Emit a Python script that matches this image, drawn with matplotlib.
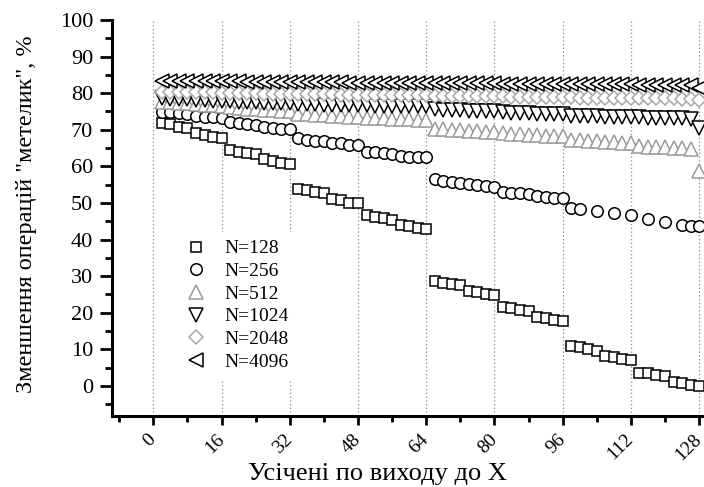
import matplotlib
matplotlib.use('Agg')
import matplotlib.pyplot as plt
from matplotlib.ticker import MultipleLocator

plt.rcParams['font.family'] = ['Liberation Serif', 'DejaVu Serif']

nan = float('nan')

# X values: output truncated to X
x_out = list(range(2, 129, 2))

n128 = [71.8, 71.5, 70.7, 70.4, 69.0, 68.7, 67.9, 67.8,
        64.5, 64.0, 63.6, 63.4, 61.9, 61.6, 60.8, 60.7,
        53.7, 53.6, 53.1, 52.6, 51.1, 50.8, 50.1, 49.9,
        46.7, 46.3, 45.8, 45.4, 44.0, 43.7, 43.1, 42.9,
        28.8, 28.2, 27.9, 27.6, 26.0, 25.8, 25.1, 24.9,
        21.5, 21.2, 20.8, 20.6, 18.8, 18.5, 18.0, 17.8,
        10.9, 10.6, 10.0, 9.6, 8.2, 7.8, 7.4, 7.1,
        3.6, 3.5, 3.0, 2.7, 1.2, 0.9, 0.3, 0.0]

n256 = [74.9, 74.8, 74.5, 74.2, 73.9, 73.6, 73.4, 73.1,
        72.2, 71.9, 71.6, 71.3, 70.7, 70.4, 70.2, 70.1,
        67.7, 67.2, 67.0, 66.9, 66.5, 66.3, 65.8, 65.8,
        64.0, 63.8, 63.6, 63.4, 62.8, 62.7, 62.5, 62.5,
        56.5, 56.1, 55.8, 55.5, 55.2, 54.9, 54.6, 54.5,
        53.1, 52.8, 52.7, 52.5, 51.9, 51.7, 51.5, 51.5,
        48.6, 48.3, nan, 47.9, nan, 47.2, nan, 46.7,
        nan, 45.5, nan, 44.9, nan, 44.0, 43.7, 43.7]

n512 = [77.6, 77.5, 77.3, 77.2, 77.0, 76.9, 76.7, 76.6,
        76.2, 76.0, 75.8, 75.7, 75.4, 75.3, 75.1, 75.0,
        74.4, 74.3, 74.1, 74.0, 73.8, 73.7, 73.5, 73.4,
        73.3, 73.2, 73.1, 73.0, 72.9, 72.9, 72.8, 72.8,
        70.2, 70.1, 70.0, 69.9, 69.7, 69.6, 69.5, 69.4,
        69.0, 68.9, 68.8, 68.7, 68.5, 68.4, 68.3, 68.2,
        67.2, 67.1, 67.0, 66.9, 66.7, 66.6, 66.5, 66.4,
        65.5, 65.4, 65.3, 65.2, 65.0, 64.9, 64.8, 58.7]

n1024 = [78.6, 78.5, 78.4, 78.3, 78.2, 78.1, 78.0, 78.0,
         77.8, 77.7, 77.6, 77.5, 77.4, 77.3, 77.3, 77.2,
         77.1, 77.0, 77.0, 76.9, 76.8, 76.8, 76.7, 76.7,
         76.7, 76.6, 76.6, 76.5, 76.5, 76.5, 76.4, 76.4,
         75.6, 75.5, 75.4, 75.3, 75.2, 75.1, 75.1, 75.0,
         74.8, 74.7, 74.6, 74.5, 74.4, 74.3, 74.3, 74.2,
         73.9, 73.8, 73.8, 73.7, 73.6, 73.6, 73.5, 73.5,
         73.4, 73.3, 73.3, 73.2, 73.2, 73.1, 73.0, 70.6]

n2048 = [80.4, 80.4, 80.3, 80.3, 80.2, 80.2, 80.2, 80.1,
         80.1, 80.0, 80.0, 80.0, 79.9, 79.9, 79.9, 79.8,
         79.8, 79.8, 79.7, 79.7, 79.7, 79.6, 79.6, 79.6,
         79.6, 79.5, 79.5, 79.5, 79.5, 79.4, 79.4, 79.4,
         79.3, 79.3, 79.3, 79.2, 79.2, 79.2, 79.1, 79.1,
         79.1, 79.0, 79.0, 79.0, 79.0, 78.9, 78.9, 78.9,
         78.9, 78.8, 78.8, 78.8, 78.8, 78.7, 78.7, 78.7,
         78.7, 78.6, 78.6, 78.6, 78.6, 78.5, 78.5, 78.1]

n4096 = [83.3, 83.3, 83.3, 83.3, 83.2, 83.2, 83.2, 83.2,
         83.2, 83.2, 83.1, 83.1, 83.1, 83.1, 83.1, 83.1,
         83.0, 83.0, 83.0, 83.0, 83.0, 83.0, 82.9, 82.9,
         82.9, 82.9, 82.9, 82.9, 82.9, 82.8, 82.8, 82.8,
         82.8, 82.8, 82.7, 82.7, 82.7, 82.7, 82.7, 82.7,
         82.6, 82.6, 82.6, 82.6, 82.6, 82.5, 82.5, 82.5,
         82.5, 82.5, 82.4, 82.4, 82.4, 82.4, 82.4, 82.4,
         82.3, 82.3, 82.3, 82.3, 82.3, 82.3, 82.3, 81.5]

labels = ['N=128', 'N=256', 'N=512', 'N=1024', 'N=2048', 'N=4096']
series = [n128, n256, n512, n1024, n2048, n4096]
x_ticks = [0, 16, 32, 48, 64, 80, 96, 112, 128]
y_ticks = [0, 10, 20, 30, 40, 50, 60, 70, 80, 90, 100]

markers = ['s', 'o', '^', 'v', 'D', '<']
colors = ['black', 'black', '#9a9a9a', 'black', '#a8a8a8', 'black']
msizes = [7.6, 8.3, 10, 10, 7.0, 10]

fig = plt.figure(figsize=(7.04, 4.87), dpi=100)
ax = fig.add_axes([112 / 704, 1 - 416 / 487, 1 - 112 / 704, 396 / 487])

for ys, lab, m, c, ms in zip(series, labels, markers, colors, msizes):
    ax.plot(x_out, ys, linestyle='none', marker=m, markersize=ms,
            markerfacecolor='white', markeredgecolor=c, markeredgewidth=1.1,
            label=lab, clip_on=False, zorder=3)

ax.set_xlim(-9.7, 129.15)
ax.set_ylim(-8.2, 100)

ax.set_xticks(x_ticks)
ax.set_xticklabels([str(v) for v in x_ticks], rotation=45, ha='right',
                   va='center', rotation_mode='anchor')
ax.xaxis.set_minor_locator(MultipleLocator(8))
ax.set_yticks(y_ticks)
ax.yaxis.set_minor_locator(MultipleLocator(5))

ax.tick_params(axis='x', which='major', direction='out', length=6.5,
               width=2.0, labelsize=14, pad=8.5)
ax.tick_params(axis='x', which='minor', direction='out', length=4.3,
               width=2.0)
ax.tick_params(axis='y', which='major', direction='out', length=9,
               width=2.0, labelsize=16, pad=4.5)
ax.tick_params(axis='y', which='minor', direction='out', length=5,
               width=2.0)

for s in ['top', 'right']:
    ax.spines[s].set_visible(False)
for s in ['left', 'bottom']:
    ax.spines[s].set_linewidth(2.2)

ax.xaxis.grid(True, which='major', linestyle=(0, (1, 2)), color='#8a8a8a',
              linewidth=0.9)
ax.set_axisbelow(True)

ax.set_xlabel('Усічені по виходу до X', fontsize=19)
ax.xaxis.set_label_coords((248 - 112) / 592, -(480 - 416) / 396)
ax.xaxis.label.set_ha('left')
ax.xaxis.label.set_va('baseline')

ax.set_ylabel('Зменшення операцій "метелик", %', fontsize=17.5)
ax.yaxis.set_label_coords((27 - 112) / 592, (416 - 214) / 396)
ax.yaxis.label.set_va('center')

leg = ax.legend(loc='upper left', bbox_to_anchor=((178 - 112) / 592, (416 - 232) / 396),
                borderaxespad=0, frameon=True, fontsize=14, handlelength=1.0,
                handletextpad=1.0, labelspacing=0.26, borderpad=0.4)
leg.get_frame().set_facecolor('white')
leg.get_frame().set_edgecolor('none')
leg.get_frame().set_alpha(1.0)
leg.set_zorder(5)

fig.savefig('out.png', dpi=100)
